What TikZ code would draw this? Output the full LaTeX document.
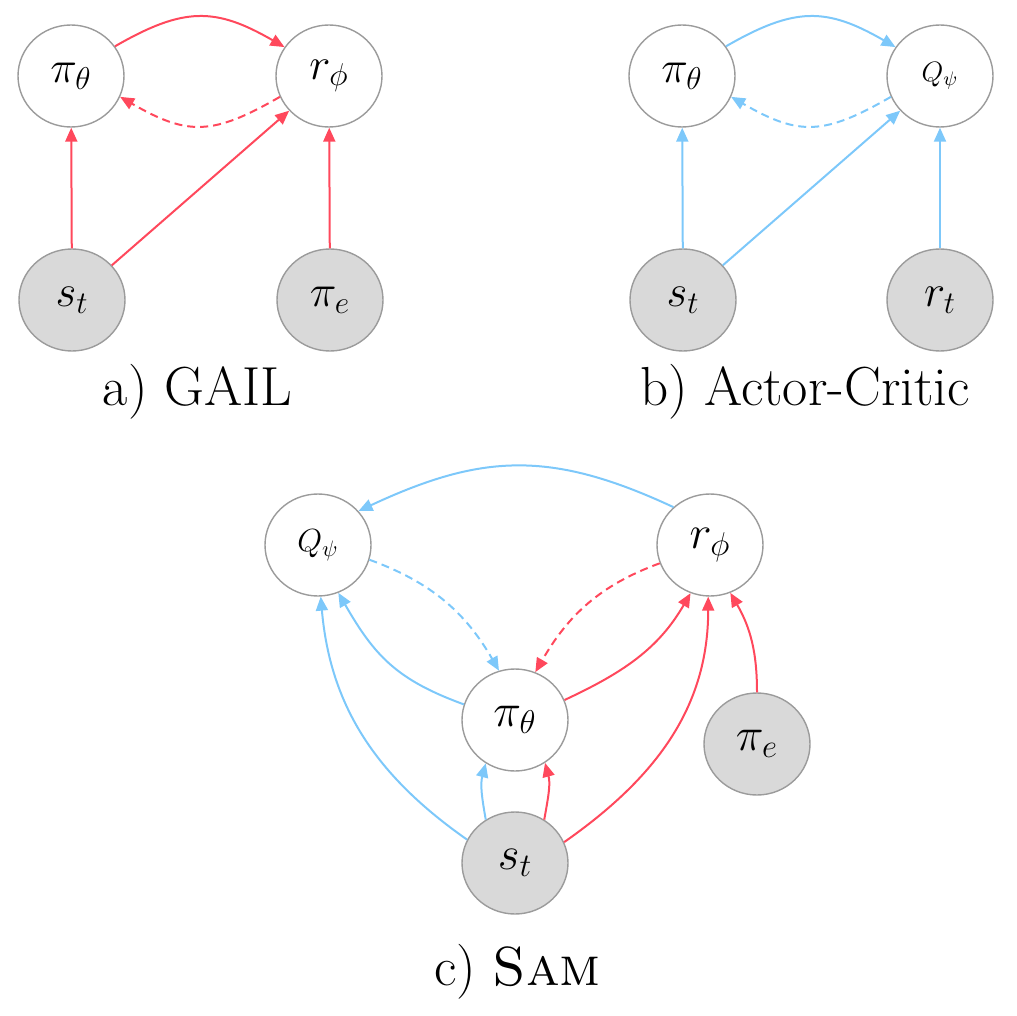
\RequirePackage{fix-cm}
\documentclass[tikz,border=0pt]{standalone}
\usetikzlibrary{arrows.meta,shapes.geometric}
\definecolor{myred}{RGB}{255,72,92}
\definecolor{myblue}{RGB}{125,200,250}
\definecolor{fillgray}{RGB}{217,217,217}
\definecolor{bordergray}{RGB}{155,155,155}
\begin{document}
\begin{tikzpicture}[x=0.5pt,y=0.5pt,
  nd/.style={ellipse, draw=bordergray, line width=0.7pt, fill=white,
    minimum width=53pt, minimum height=51pt, inner sep=0pt,
    font=\fontsize{22.5}{26}\selectfont},
  obs/.style={nd, fill=fillgray},
  bignd/.style={font=\fontsize{23.5}{27}\selectfont},
  smallq/.style={font=\fontsize{14}{17}\selectfont},
  midq/.style={font=\fontsize{16}{19}\selectfont},
  lbl/.style={font=\fontsize{27.5}{32}\selectfont, inner sep=0pt, anchor=base},
  redarr/.style={draw=myred, line width=1pt, -{Triangle[length=7pt,width=6pt]}},
  bluearr/.style={draw=myblue, line width=1pt, -{Triangle[length=7pt,width=6pt]}},
  dsh/.style={dash pattern=on 4pt off 2.5pt}
]
\useasboundingbox (0,0) rectangle (1017,-1016);

% ---------- a) GAIL ----------
\node[nd]  (pA) at (71,-76)   {$\pi_\theta$};
\node[nd]  (rA) at (329,-76)  {$r_\phi$};
\node[obs] (sA) at (72,-300)  {$s_t$};
\node[obs] (eA) at (330,-300) {$\pi_e$};
\draw[redarr] (pA.34) to[out=30,in=150,looseness=1.2] (rA.147);
\draw[redarr,dsh] (rA.203) to[out=210,in=-30,looseness=1.25] (pA.-23);
\draw[redarr] (sA) -- (pA);
\draw[redarr] (sA) -- (rA);
\draw[redarr] (eA) -- (rA);
\node[lbl] (labA) at (197.5,-405) {a) GAIL};

% ---------- b) Actor-Critic ----------
\node[nd]  (pB) at (682,-76)  {$\pi_\theta$};
\node[nd,smallq] (qB) at (940,-76) {$Q_\psi$};
\node[obs] (sB) at (683,-300) {$s_t$};
\node[obs] (tB) at (940,-300) {$r_t$};
\draw[bluearr] (pB.34) to[out=30,in=150,looseness=1.2] (qB.147);
\draw[bluearr,dsh] (qB.203) to[out=210,in=-30,looseness=1.25] (pB.-23);
\draw[bluearr] (sB) -- (pB);
\draw[bluearr] (sB) -- (qB);
\draw[bluearr] (tB) -- (qB);
\node[lbl] (labB) at (805,-405) {b) Actor-Critic};

% ---------- c) Sam ----------
\node[nd,midq]  (qC) at (318,-545) {$Q_\psi$};
\node[nd,bignd] (rC) at (710,-545) {$r_\phi$};
\node[nd,bignd] (pC) at (515,-720) {$\pi_\theta$};
\node[obs,bignd] (eC) at (757,-744) {$\pi_e$};
\node[obs,bignd] (sC) at (515,-863) {$s_t$};
\draw[bluearr] (rC.134) to[out=155,in=25,looseness=1.1] (qC.40);
\draw[bluearr,dsh] (qC.-16) to[out=-20,in=120] (pC.108);
\draw[redarr,dsh] (rC.200) to[out=200,in=60] (pC.67);
\draw[bluearr] (pC.163) to[out=160,in=-60,looseness=1.1] (qC.-67);
\draw[redarr] (pC.22) to[out=25,in=-120] (rC.-112);
\draw[bluearr] (sC.154) to[out=145,in=-85] (qC.-87);
\draw[redarr] (sC.23) to[out=35,in=-90] (rC.-92);
\draw[bluearr] (sC.124) to[out=100,in=-105] (pC.-124);
\draw[redarr] (sC.56) to[out=80,in=-75] (pC.-55);
\draw[redarr] (eC.north) to[out=90,in=-60] (rC.-67);
\node[lbl] (labC) at (517.5,-985) {c) \textsc{Sam}};
\end{tikzpicture}
\end{document}
